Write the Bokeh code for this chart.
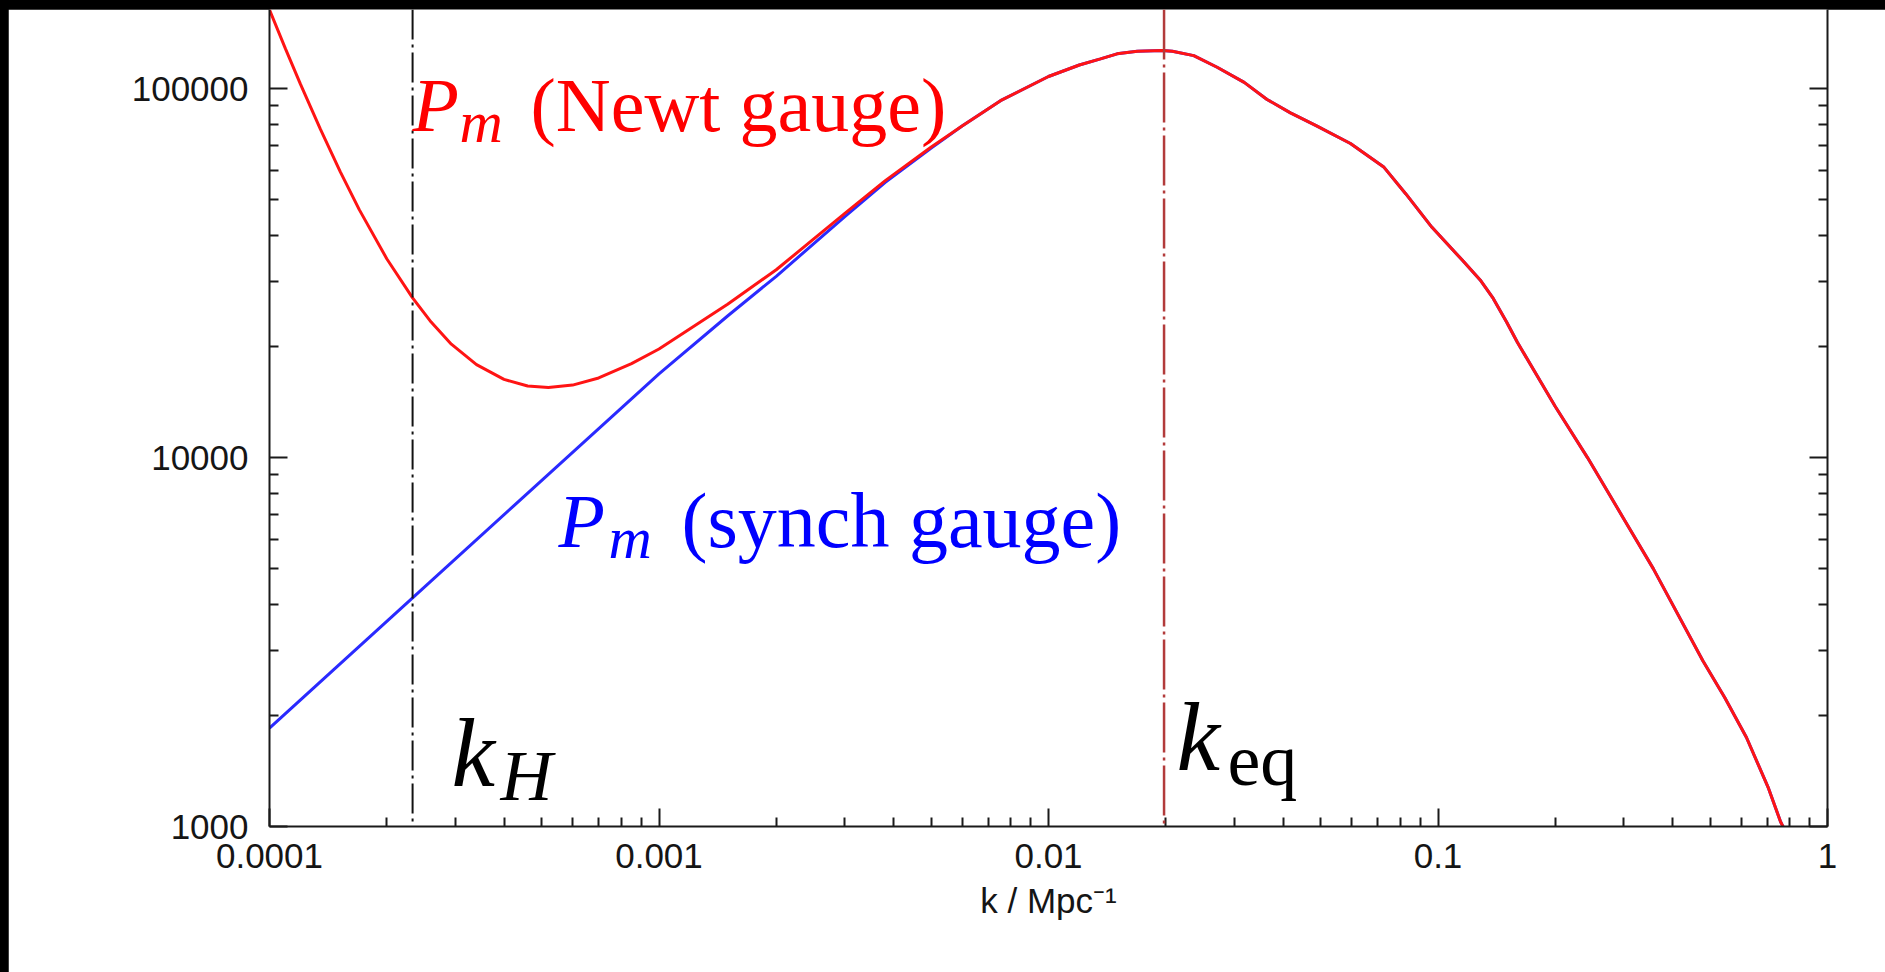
from bokeh.plotting import figure
from bokeh.models import (LogAxis, FixedTicker, CustomJSTickFormatter, Range1d,
                          Span, Label)
from bokeh.layouts import column
from bokeh.embed import file_html
from bokeh.resources import INLINE

# ---------------- data ----------------
# Newtonian gauge, low-k part (above the synchronous curve)
k_newt_low = [1.0e-4, 1.1e-4, 1.2e-4, 1.35e-4, 1.52e-4, 1.7e-4, 2.0e-4, 2.33e-4,
              2.6e-4, 2.93e-4, 3.4e-4, 4.0e-4, 4.6e-4, 5.2e-4, 6.0e-4, 7.0e-4,
              8.5e-4, 1.0e-3, 1.5e-3, 2.0e-3, 3.0e-3, 3.81e-3, 5.0e-3]
P_newt_low = [163700, 128000, 103000, 77800, 59500, 47000, 34600, 27100,
              23300, 20300, 17870, 16290, 15630, 15480, 15720, 16440,
              17980, 19690, 26040, 32300, 45900, 56340, 69500]

# synchronous gauge, low-k part
k_sync_low = [1.0e-4, 2.33e-4, 5.1e-4, 1.0e-3, 1.5e-3, 2.0e-3, 3.0e-3, 3.81e-3,
              5.0e-3]
P_sync_low = [1849, 4166, 8840, 16860, 24200, 31000, 45000, 55700, 69000]

# both gauges coincide at higher k
k_shared = [6.0e-3, 7.53e-3, 0.01, 0.012, 0.0136, 0.015, 0.0169, 0.0196,
            0.0208, 0.0236, 0.0271, 0.0318, 0.0364, 0.0418, 0.0485, 0.0596,
            0.0727, 0.0827, 0.0965, 0.1157, 0.1283, 0.1386, 0.15, 0.16, 0.2,
            0.242, 0.3, 0.357, 0.4786, 0.5446, 0.6194, 0.7054, 0.7577, 0.8]
P_shared = [79200, 92800, 107900, 115900, 120400, 124300, 126300, 126900,
            126300, 122900, 114300, 104000, 93500, 86000, 79500, 71000,
            61200, 51840, 42090, 34200, 30300, 27000, 23300, 20500, 13760,
            10000, 6820, 5000, 2814, 2238, 1743, 1270, 1030, 920]

k_H = 2.33e-4
k_eq = 0.0198

x_tick_vals = [1e-4, 1e-3, 1e-2, 1e-1, 1.0]
x_tick_labels = ["0.0001", "0.001", "0.01", "0.1", "1"]
y_tick_vals = [1000, 10000, 100000]
y_tick_labels = ["1000", "10000", "100000"]

x_minor = [m * d for d in [1e-4, 1e-3, 1e-2, 1e-1] for m in range(2, 10)]
y_minor = [m * d for d in [1000, 10000, 100000] for m in range(2, 10)]

# ---------------- figure ----------------
p = figure(width=1877, height=963, x_axis_type="log", y_axis_type="log",
           x_range=Range1d(1e-4, 1.0), y_range=Range1d(1000, 163900),
           output_backend="svg", toolbar_location=None,
           min_border_left=261, min_border_right=58, min_border_top=0,
           min_border_bottom=146)
p.margin = (9, 0, 0, 8)
p.outline_line_color = None
p.grid.visible = False
p.background_fill_color = "white"
p.border_fill_color = "white"

LOOKUP = """
    for (let i = 0; i < vals.length; i++) {
        if (Math.abs(Math.log10(vals[i]) - Math.log10(tick)) < 1e-6) return labs[i];
    }
    return "";
"""
fmt_x = CustomJSTickFormatter(args=dict(vals=x_tick_vals, labs=x_tick_labels), code=LOOKUP)
fmt_y = CustomJSTickFormatter(args=dict(vals=y_tick_vals, labs=y_tick_labels), code=LOOKUP)
fmt_none = CustomJSTickFormatter(code="return '';")

def style_axis(ax):
    ax.axis_line_width = 2
    ax.axis_line_color = "#1a1a1a"
    ax.major_tick_in = 18
    ax.major_tick_out = 0
    ax.minor_tick_in = 9
    ax.minor_tick_out = 0
    ax.major_tick_line_width = 2
    ax.minor_tick_line_width = 2
    ax.major_tick_line_color = "#1a1a1a"
    ax.minor_tick_line_color = "#1a1a1a"
    ax.major_label_text_font = "Liberation Sans"
    ax.major_label_text_font_size = "35px"
    ax.major_label_text_color = "#151515"

xax = p.xaxis[0]
xax.ticker = FixedTicker(ticks=x_tick_vals, minor_ticks=x_minor)
xax.formatter = fmt_x
style_axis(xax)
xax.major_label_standoff = 17
xax.axis_label = "k / Mpc\u207b\u00b9"
xax.axis_label_text_font = "Liberation Sans"
xax.axis_label_text_font_style = "normal"
xax.axis_label_text_font_size = "35px"
xax.axis_label_text_color = "#151515"
xax.axis_label_standoff = 10

yax = p.yaxis[0]
yax.ticker = FixedTicker(ticks=y_tick_vals, minor_ticks=y_minor)
yax.formatter = fmt_y
style_axis(yax)
yax.major_label_standoff = 21

rax = LogAxis(ticker=FixedTicker(ticks=y_tick_vals, minor_ticks=y_minor),
              formatter=fmt_none)
style_axis(rax)
p.add_layout(rax, "right")

# ---------------- curves ----------------
p.line(k_sync_low + k_shared, P_sync_low + P_shared,
       line_color="#2a2aff", line_width=3)
p.line(k_newt_low + k_shared, P_newt_low + P_shared,
       line_color="#ff1414", line_width=3)

p.add_layout(Span(location=k_H, dimension="height", line_color="#111111",
                  line_width=2, line_dash="30 5 3 5"))
p.add_layout(Span(location=k_eq, dimension="height", line_color="#b23b3b",
                  line_width=2.5, line_dash="50 5 3 5"))

# ---------------- annotations ----------------
# helpers: page pixel -> data coordinate (for placing the text labels)
X0, DEC_X = 269.0, 389.5
Y0, DEC_Y = 825.7, 368.8
def kx(px):
    return 10 ** (-4 + (px - X0) / DEC_X)
def Py(py):
    return 10 ** (3 + (Y0 - py) / DEC_Y)

serif = "Liberation Serif"
def lab(px, baseline, text, color, size, style):
    # label anchor sits ~0.35 em above the intended baseline
    p.add_layout(Label(x=kx(px), y=Py(baseline - 0.35 * size), text=text,
                       text_color=color, text_font=serif,
                       text_font_size=f"{size}px", text_font_style=style,
                       text_baseline="alphabetic", text_align="left"))

lab(412, 131, "P", "#ff0000", 76, "italic")
lab(459, 142, "m", "#ff0000", 60, "italic")
lab(530, 131, "(Newt gauge)", "#ff0000", 76, "normal")

lab(558, 547, "P", "#0000ff", 76, "italic")
lab(608, 558, "m", "#0000ff", 60, "italic")
lab(681, 547, "(synch gauge)", "#0000ff", 78, "normal")

lab(451, 787, "k", "#000000", 98, "italic")
lab(500, 800, "H", "#000000", 72, "italic")

lab(1176, 771, "k", "#000000", 98, "italic")
lab(1227, 785, "eq", "#000000", 74, "normal")

layout = column(p, styles={"background-color": "black"})
open("out.html", "w").write(file_html(layout, INLINE))
